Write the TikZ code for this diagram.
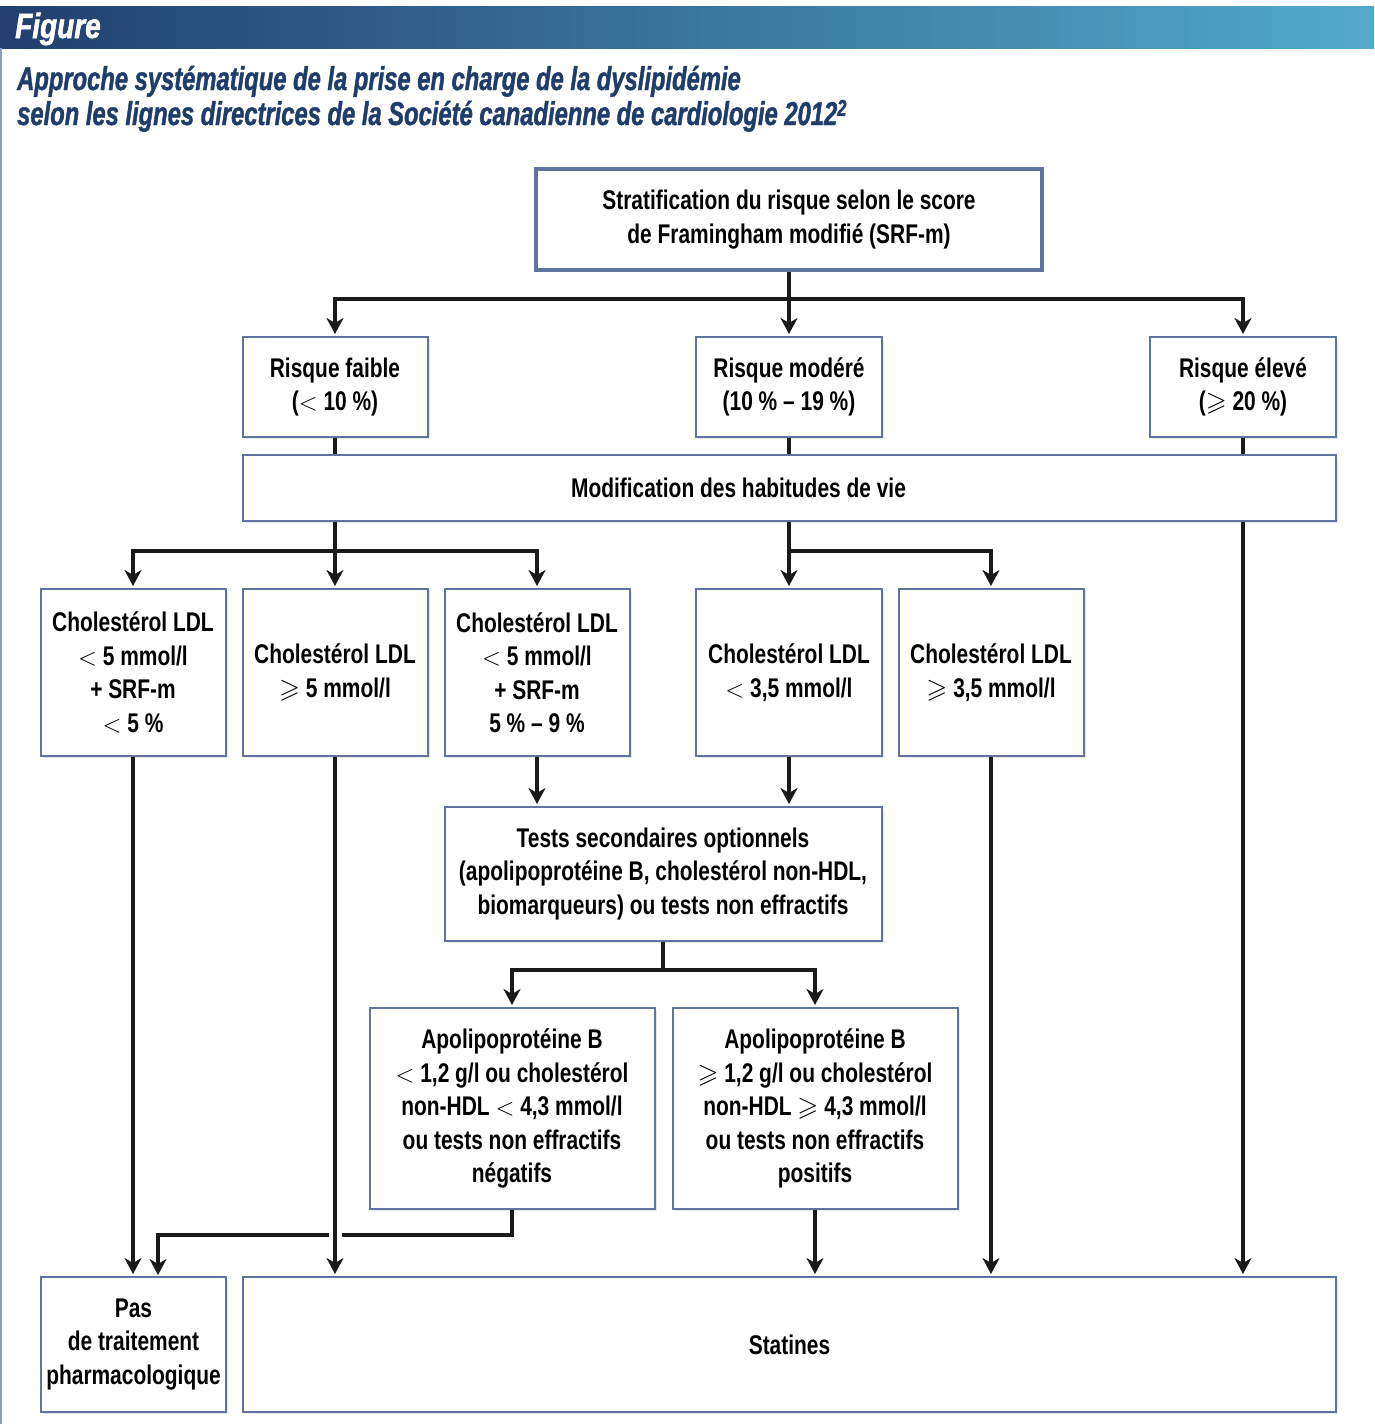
\documentclass[tikz,border=0pt]{standalone}
\usepackage{amssymb}
\usepackage{fontspec}
\setmainfont{Liberation Sans}[FakeStretch=0.775]
\newfontfamily\titlefont{Liberation Sans}[FakeStretch=0.72,FakeBold=1.2]
\newfontfamily\figfont{Liberation Sans}[FakeStretch=0.8,FakeBold=1.5]
\usetikzlibrary{arrows.meta,shadows}
\definecolor{boxblue}{HTML}{5F74A0}
\definecolor{titleblue}{HTML}{1F3D6B}
\definecolor{hdrL}{HTML}{223F6E}
\definecolor{hdrM}{HTML}{3C7FA5}
\definecolor{hdrR}{HTML}{52AACB}
\definecolor{linegray}{HTML}{1A1A1A}
\begin{document}
\begin{tikzpicture}[x=1pt,y=-1pt,
  box/.style={draw=boxblue, line width=2pt, fill=white, inner sep=0pt, align=center,
    font=\fontsize{27}{33.5}\selectfont\bfseries,
    drop shadow={opacity=0.18, shadow xshift=2pt, shadow yshift=-2pt}},
  conn/.style={line width=4.5pt, draw=linegray},
  arr/.style={conn, shorten >=2pt, -{Stealth[width=17pt,length=16pt,inset=5pt]}},
  titletext/.style={anchor=base west, inner sep=0pt, text=titleblue,
    font=\titlefont\fontsize{33}{33}\selectfont\bfseries\itshape},
]
\useasboundingbox (0,0) rectangle (1374,1424);
\fill[white] (0,0) rectangle (1374,1424);
% header band
\shade[left color=hdrL, middle color=hdrM, right color=hdrR] (0,6) rectangle (1374,48);
\draw[boxblue!70, line width=1.5pt] (1,48) -- (1,1424);
\node[anchor=base west, inner sep=0pt, text=white,
  font=\figfont\fontsize{35}{35}\selectfont\bfseries\itshape] (figlbl) at (15,38) {Figure};
\node[titletext] (title1) at (17,90) {Approche systématique de la prise en charge de la dyslipidémie};
\node[titletext] (title2) at (17,125) {selon les lignes directrices de la Société canadienne de cardiologie 2012\textsuperscript{2}};

% boxes
\node[box, line width=3.5pt, minimum width=506, minimum height=101] (strat) at (789,219.5)
  {Stratification du risque selon le score\\de Framingham modifié (SRF-m)};
\node[box, minimum width=185, minimum height=100] (faible) at (335,387) {Risque faible\\($<$ 10 \%)};
\node[box, minimum width=186, minimum height=100] (moder) at (789,387) {Risque modéré\\(10 \% – 19 \%)};
\node[box, minimum width=186, minimum height=100] (eleve) at (1243,387) {Risque élevé\\($\geqslant$ 20 \%)};
\node[box, minimum width=1093, minimum height=66] (modif) at (789.5,488) {};
\node[inner sep=0pt, font=\fontsize{27}{33.5}\selectfont\bfseries] (modiftxt) at (738.5,488) {Modification des habitudes de vie};

\node[box, minimum width=185, minimum height=167] (ldlA) at (133,672.5)
  {Cholestérol LDL\\$<$ 5 mmol/l\\+ SRF-m\\$<$ 5 \%};
\node[box, minimum width=185, minimum height=167] (ldlB) at (335,672.5)
  {Cholestérol LDL\\$\geqslant$ 5 mmol/l};
\node[box, minimum width=185, minimum height=167] (ldlC) at (537,672.5)
  {Cholestérol LDL\\$<$ 5 mmol/l\\+ SRF-m\\5 \% – 9 \%};
\node[box, minimum width=186, minimum height=167] (ldlD) at (789,672.5)
  {Cholestérol LDL\\$<$ 3,5 mmol/l};
\node[box, minimum width=185, minimum height=167] (ldlE) at (991,672.5)
  {Cholestérol LDL\\$\geqslant$ 3,5 mmol/l};

\node[box, minimum width=437, minimum height=134] (tests) at (663,874)
  {Tests secondaires optionnels\\(apolipoprotéine B, cholestérol non-HDL,\\biomarqueurs) ou tests non effractifs};

\node[box, minimum width=285, minimum height=201] (apoN) at (512,1108.5)
  {Apolipoprotéine B\\$<$ 1,2 g/l ou cholestérol\\non-HDL $<$ 4,3 mmol/l\\ou tests non effractifs\\négatifs};
\node[box, minimum width=285, minimum height=201] (apoP) at (815,1108.5)
  {Apolipoprotéine B\\$\geqslant$ 1,2 g/l ou cholestérol\\non-HDL $\geqslant$ 4,3 mmol/l\\ou tests non effractifs\\positifs};

\node[box, minimum width=185, minimum height=135] (pas) at (133.5,1344.5)
  {Pas\\de traitement\\pharmacologique};
\node[box, minimum width=1093, minimum height=135] (stat) at (789.5,1344.5) {Statines};

% junction coordinates
\coordinate (j1) at (789,299);
\coordinate (j2) at (335,551);
\coordinate (j3) at (789,551);
\coordinate (j4) at (663,970);
\coordinate (gR) at (342,1235);
\coordinate (gL) at (329,1235);
\coordinate (pasR) at (158,1277);

% connectors
\draw[conn] (strat.south) -- (j1);
\draw[arr] (j1) -| (faible.north);
\draw[arr] (j1) -- (moder.north);
\draw[arr] (j1) -| (eleve.north);

\draw[conn] (faible.south) -- (faible.south |- modif.north);
\draw[conn] (moder.south) -- (moder.south |- modif.north);
\draw[conn] (eleve.south) -- (eleve.south |- modif.north);

\draw[conn] (j2 |- modif.south) -- (j2);
\draw[arr] (j2) -| (ldlA.north);
\draw[arr] (j2) -- (ldlB.north);
\draw[arr] (j2) -| (ldlC.north);

\draw[conn] (j3 |- modif.south) -- (j3);
\draw[arr] (j3) -- (ldlD.north);
\draw[arr] (j3) -| (ldlE.north);

\draw[arr] (eleve.south |- modif.south) -- (eleve.south |- stat.north);

\draw[arr] (ldlC.south) -- (ldlC.south |- tests.north);
\draw[arr] (ldlD.south) -- (ldlD.south |- tests.north);

\draw[conn] (tests.south) -- (j4);
\draw[arr] (j4) -| (apoN.north);
\draw[arr] (j4) -| (apoP.north);

\draw[arr] (ldlA.south) -- (ldlA.south |- pas.north);
\draw[conn] (apoN.south) |- (gR);
\draw[arr] (gL) -| (pasR);
\draw[arr] (ldlB.south) -- (ldlB.south |- stat.north);
\draw[arr] (apoP.south) -- (apoP.south |- stat.north);
\draw[arr] (ldlE.south) -- (ldlE.south |- stat.north);
\end{tikzpicture}
\end{document}
